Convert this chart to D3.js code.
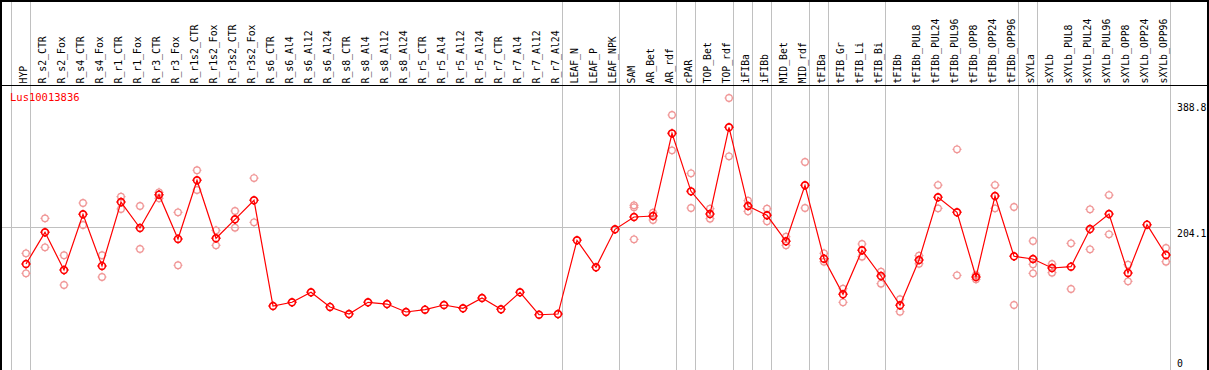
<!DOCTYPE html>
<html>
<head>
<meta charset="utf-8">
<script src="https://cdn.jsdelivr.net/npm/d3@7"></script>
<style>
  html, body { margin: 0; padding: 0; background: #fff; }
  svg { display: block; }
  text { font-family: "DejaVu Sans Mono", "Liberation Mono", monospace; font-size: 9.8px; }
</style>
</head>
<body>
<svg id="chart" width="1209" height="370"></svg>
<script>
const geneId = "Lus10013836";

const categories = [
  "HYP", "R_s2_CTR", "R_s2_Fox", "R_s4_CTR", "R_s4_Fox", "R_r1_CTR", "R_r1_Fox",
  "R_r3_CTR", "R_r3_Fox", "R_r1s2_CTR", "R_r1s2_Fox", "R_r3s2_CTR", "R_r3s2_Fox",
  "R_s6_CTR", "R_s6_Al4", "R_s6_Al12", "R_s6_Al24", "R_s8_CTR", "R_s8_Al4", "R_s8_Al12",
  "R_s8_Al24", "R_r5_CTR", "R_r5_Al4", "R_r5_Al12", "R_r5_Al24", "R_r7_CTR", "R_r7_Al4",
  "R_r7_Al12", "R_r7_Al24", "LEAF_N", "LEAF_P", "LEAF_NPK", "SAM", "AR_Bet", "AR_rdf",
  "cPAR", "TOP_Bet", "TOP_rdf", "iFIBa", "iFIBb", "MID_Bet", "MID_rdf", "tFIBa",
  "tFIB_Gr", "tFIB_Li", "tFIB_Bi", "tFIBb", "tFIBb_PUL8", "tFIBb_PUL24", "tFIBb_PUL96",
  "tFIBb_OPP8", "tFIBb_OPP24", "tFIBb_OPP96", "sXYLa", "sXYLb", "sXYLb_PUL8",
  "sXYLb_PUL24", "sXYLb_PUL96", "sXYLb_OPP8", "sXYLb_OPP24", "sXYLb_OPP96"
];

const meanValues = [
  151.5, 196.8, 142.9, 222.6, 148.7, 240.1, 203.0, 250.6, 187.3, 271.2, 188.3, 215.4, 242.6,
  91.5, 96.8, 111.1, 90.1, 80.0, 96.8, 94.3, 82.9, 86.2, 92.9, 88.2, 102.9, 86.8, 111.1,
  79.0, 80.0, 185.4, 146.8, 201.1, 218.7, 220.1, 338.3, 255.4, 223.0, 346.9, 234.4,
  221.1, 184.0, 264.0, 159.1, 108.2, 171.1, 134.4, 92.5, 157.2, 246.9, 225.4, 132.9,
  248.7, 162.5, 158.7, 145.8, 147.7, 201.5, 223.0, 138.7, 207.7, 164.4
];

const replicateValues = [
  [166.8, 138.2], [216.8, 175.4], [164.0, 121.5], [238.7, 207.3], [164.0, 132.9],
  [247.7, 230.1], [234.4, 173.0], [254.0, 245.4], [225.4, 149.7], [285.5, 257.3],
  [199.7, 178.2], [227.3, 203.4], [274.4, 211.1],
  [], [], [], [], [], [], [], [], [], [], [], [], [], [], [], [],
  [], [], [],
  [235.4, 232.6, 186.8], [224.8, 214.4], [364.5, 314.0], [281.2, 231.6], [230.6, 216.3],
  [388.8, 305.5], [242.0, 226.8], [230.6, 212.6], [190.5, 178.2], [297.3, 231.6],
  [166.8, 154.8], [116.2, 96.8], [180.1, 162.0], [140.5, 123.4], [101.1, 83.3],
  [163.4, 151.9], [264.4, 231.1], [315.5, 135.4], [135.8, 129.6], [264.4, 231.1],
  [233.0, 92.9], [184.4, 151.1, 138.2], [151.5, 139.1], [181.1, 115.8], [229.7, 172.5],
  [250.1, 194.0], [150.5, 126.8], [], [174.4, 154.8]
];

// last sample of each tissue group, a separator follows it
const groupEnds = ["HYP", "R_r7_Al24", "LEAF_NPK", "AR_rdf", "cPAR", "TOP_rdf", "iFIBa",
  "iFIBb", "MID_rdf", "tFIBa", "tFIB_Bi", "tFIBb_OPP96", "sXYLa", "sXYLb_OPP96"];

const yTicks = [388.8, 204.1, 0];
const gridValues = [204.1];

const width = 1209;
const height = 370;
const headerBottom = 85;

const x = d3.scalePoint()
  .domain(categories)
  .range([26, 1166]);

const y = d3.scaleLinear()
  .domain([0, 388.8])
  .range([370, 98]);

const svg = d3.select("#chart");

// group separators (one in front of the first sample too)
const sepX = [x(categories[0]) - 15].concat(groupEnds.map(c => x(c) + 4.5));
svg.append("g")
  .selectAll("line")
  .data(sepX)
  .enter()
  .append("line")
    .attr("x1", d => Math.floor(d) + 0.5)
    .attr("x2", d => Math.floor(d) + 0.5)
    .attr("y1", 0)
    .attr("y2", height)
    .attr("stroke", "#c0c0c0")
    .attr("stroke-width", 1)
    .attr("shape-rendering", "crispEdges");

// horizontal grid
svg.append("g")
  .selectAll("line")
  .data(gridValues)
  .enter()
  .append("line")
    .attr("x1", 0)
    .attr("x2", Math.floor(sepX[sepX.length - 1]) + 1)
    .attr("y1", d => Math.round(y(d)) + 0.5)
    .attr("y2", d => Math.round(y(d)) + 0.5)
    .attr("stroke", "#c0c0c0")
    .attr("shape-rendering", "crispEdges");

// frame
svg.append("line")
  .attr("x1", 1).attr("x2", 1).attr("y1", 0).attr("y2", height)
  .attr("stroke", "#000").attr("stroke-width", 2).attr("shape-rendering", "crispEdges");
svg.append("line")
  .attr("x1", width - 1).attr("x2", width - 1).attr("y1", 0).attr("y2", height)
  .attr("stroke", "#000").attr("stroke-width", 2).attr("shape-rendering", "crispEdges");
svg.append("line")
  .attr("x1", 0).attr("x2", width).attr("y1", 0.5).attr("y2", 0.5)
  .attr("stroke", "#000").attr("stroke-width", 2).attr("shape-rendering", "crispEdges");
svg.append("line")
  .attr("x1", 0).attr("x2", width).attr("y1", headerBottom + 0.5).attr("y2", headerBottom + 0.5)
  .attr("stroke", "#000").attr("shape-rendering", "crispEdges");

// sample labels (header)
svg.append("g")
  .selectAll("text")
  .data(categories)
  .enter()
  .append("text")
    .attr("transform", d => `translate(${x(d) + 1},${headerBottom - 1.5})rotate(-90)`)
    .attr("fill", "#000")
    .style("text-anchor", "start")
    .text(d => d);

// gene title
svg.append("text")
  .attr("x", 10)
  .attr("y", 101)
  .attr("fill", "#ff0000")
  .style("font-size", "10.5px")
  .text(geneId);

// right axis
const yAxis = d3.axisRight(y)
  .tickValues(yTicks)
  .tickSize(0)
  .tickPadding(0)
  .tickFormat(d => d);

const axisG = svg.append("g")
  .attr("transform", "translate(1177,0)")
  .call(yAxis);
axisG.select(".domain").remove();
axisG.selectAll("text")
  .attr("fill", "#000")
  .attr("font-family", null)
  .attr("font-size", null)
  .style("font-size", "9.8px")
  .attr("dy", d => d === 0 ? -4 : (d === 388.8 ? 12 : 9));

// replicate points
const reps = [];
categories.forEach((c, i) => replicateValues[i].forEach(v => reps.push({cat: c, val: v})));

function marker(g, r) {
  g.append("circle").attr("r", r).attr("fill", "none");
  g.append("path")
    .attr("d", `M0,${-r - 1.2}V${-r + 0.5}M0,${r - 0.5}V${r + 1.2}M${-r - 1.2},0H${-r + 0.5}M${r - 0.5},0H${r + 1.2}`)
    .attr("fill", "none");
}

svg.append("g")
  .attr("stroke", "#f09595")
  .attr("stroke-width", 1.2)
  .selectAll("g")
  .data(reps)
  .enter()
  .append("g")
    .attr("transform", d => `translate(${x(d.cat)},${y(d.val)})`)
    .each(function() { marker(d3.select(this), 3.3); });

// mean line
const means = categories.map((c, i) => ({cat: c, val: meanValues[i]}));
const line = d3.line()
  .x(d => x(d.cat))
  .y(d => y(d.val));

svg.append("path")
  .datum(means)
  .attr("d", line)
  .attr("fill", "none")
  .attr("stroke", "#ff0000")
  .attr("stroke-width", 1.2);

svg.append("g")
  .attr("stroke", "#ff0000")
  .attr("stroke-width", 1.6)
  .selectAll("g")
  .data(means)
  .enter()
  .append("g")
    .attr("transform", d => `translate(${x(d.cat)},${y(d.val)})`)
    .each(function() { marker(d3.select(this), 3.4); });
</script>
</body>
</html>
